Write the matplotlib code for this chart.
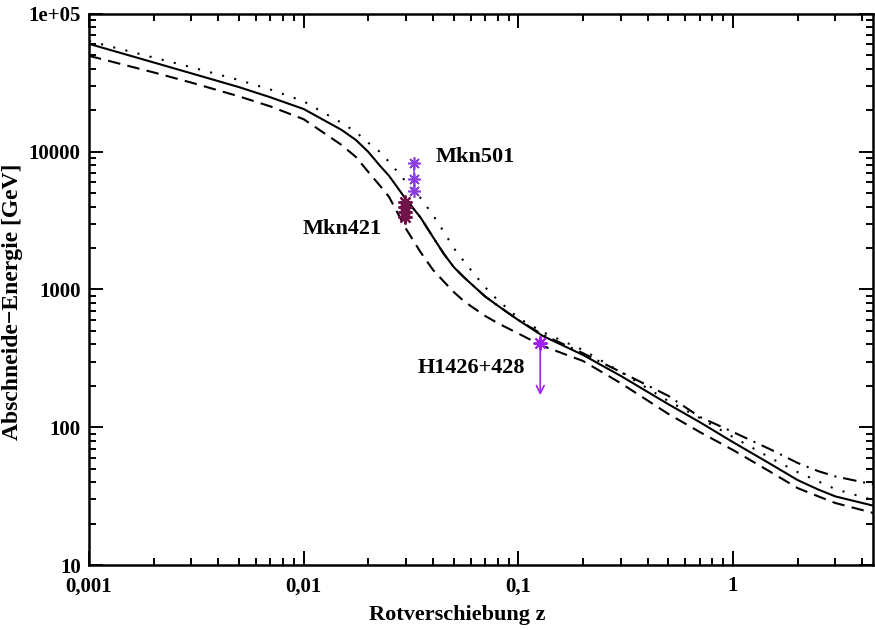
import numpy as np
import matplotlib
matplotlib.use("Agg")
import matplotlib.pyplot as plt

plt.rcParams['font.family'] = ['Liberation Serif', 'DejaVu Serif']
plt.rcParams['font.weight'] = 'bold'

# Rotverschiebung
z = [0.001, 0.002, 0.003, 0.005, 0.007, 0.01, 0.015, 0.0175, 0.02, 0.0225,
     0.025, 0.03, 0.035, 0.04, 0.045, 0.05, 0.055, 0.06, 0.07, 0.08, 0.1, 0.13,
     0.2, 0.3, 0.5, 0.7, 1.0, 1.5, 2.0, 2.5, 3.0, 4.5]

# Abschneide-Energie [GeV] fuer die verschiedenen EBL-Modelle
e_solid = [60600, 44400, 37000, 29400, 24800, 20400, 14400, 12170, 9960, 8010,
           6670, 4500, 3335, 2405, 1811, 1456, 1253, 1106, 890, 765, 600, 460,
           335, 236, 147, 109, 78, 54, 41.4, 35.3, 31.5, 27.0]
e_dotted = [63500, 48200, 41000, 33070, 28240, 23200, 16200, 13900, 11600,
            10040, 8430, 6030, 4620, 3470, 2620, 2000, 1648, 1390, 1040, 839,
            621, 491, 364, 252, 155, 117, 85, 59.8, 47.3, 40.5, 35.6, 29.6]
e_dashed = [49600, 37600, 31700, 25200, 21300, 17200, 11200, 9160, 7130, 5740,
            4690, 2750, 1870, 1390, 1140, 959, 839, 759, 643, 571, 479, 389,
            303, 209, 125, 92.4, 68.4, 47.3, 36.2, 31.5, 28.2, 23.9]

z_dd = [0.03, 0.035, 0.04, 0.045, 0.05, 0.055, 0.06, 0.07, 0.08, 0.1, 0.13,
        0.2, 0.3, 0.5, 0.7, 1.0, 1.5, 2.0, 2.5, 3.0, 4.5]
e_dashdot = [4500, 3335, 2405, 1811, 1456, 1253, 1106, 890, 765, 600, 470,
             345, 252, 169, 119, 92.4, 68.9, 55.1, 48.0, 44.0, 38.5]

# Quellen
mkn501_z = [0.0328, 0.0328, 0.0328]
mkn501_e = [8280, 6340, 5190]
mkn421_z = [0.0298, 0.0298, 0.0298, 0.0298]
mkn421_e = [4300, 3970, 3650, 3360]
h1426_z = 0.1265
h1426_e = 409
h1426_lim = 171

xticks = [0.001, 0.01, 0.1, 1]
xlabels = ['0,001', '0,01', '0,1', '1']
yticks = [10, 100, 1000, 10000, 100000]
ylabels = ['10', '100', '1000', '10000', '1e+05']

fig = plt.figure(figsize=(8.75, 6.3), dpi=100)
ax = fig.add_axes([0.1017, 0.103, 0.8963, 0.875])

lw = 1.5
ax.plot(z, e_solid, '-', color='black', lw=lw)
ax.plot(z, e_dotted, color='black', lw=lw, linestyle=(0, (1, 5)))
ax.plot(z, e_dashed, color='black', lw=lw, linestyle=(0, (6, 3.5)))
ax.plot(z_dd, e_dashdot, color='black', lw=lw, linestyle=(0, (6.5, 3.3, 1, 3.3)))

ast = (8, 2, 0)
ax.plot(mkn501_z, mkn501_e, '-', color='#8a3ee0', lw=1.2, marker=ast,
        markersize=9, mew=1.2)
ax.plot(mkn421_z, mkn421_e, color='#6e1448', marker=ast,
        markersize=10, mew=1.6, linestyle='none')
ax.plot([h1426_z], [h1426_e], color='#a020f0', marker=ast, markersize=10, mew=1.5)
ax.annotate('', xy=(h1426_z, h1426_lim), xytext=(h1426_z, h1426_e),
            arrowprops=dict(arrowstyle='->', color='#a020f0', lw=1.2,
                            mutation_scale=14, shrinkA=0, shrinkB=0))

ax.text(0.0411, 9160, 'Mkn501', fontsize=16, fontweight='bold', va='center')
ax.text(0.00989, 2750, 'Mkn421', fontsize=16, fontweight='bold', va='center')
ax.text(0.0339, 269, 'H1426+428', fontsize=16, fontweight='bold', va='center')

ax.set_xscale('log')
ax.set_yscale('log')
ax.set_xlim(0.001, 4.5)
ax.set_ylim(10, 100000)
ax.set_xticks(xticks)
ax.set_xticklabels(xlabels)
ax.set_yticks(yticks)
ax.set_yticklabels(ylabels)

ax.tick_params(which='both', direction='in', top=True, right=True, width=1.4)
ax.tick_params(which='major', length=10, labelsize=15)
ax.tick_params(axis='x', which='major', pad=8)
ax.tick_params(axis='y', which='major', pad=6)
ax.tick_params(which='minor', length=5)
for s in ax.spines.values():
    s.set_linewidth(1.8)

ax.set_xlabel('Rotverschiebung z', fontsize=16, fontweight='bold', labelpad=6,
              x=0.469)
ax.set_ylabel('Abschneide\u2212Energie [GeV]', fontsize=17, fontweight='bold',
              labelpad=4, y=0.477)

plt.savefig('out.png', dpi=100)
